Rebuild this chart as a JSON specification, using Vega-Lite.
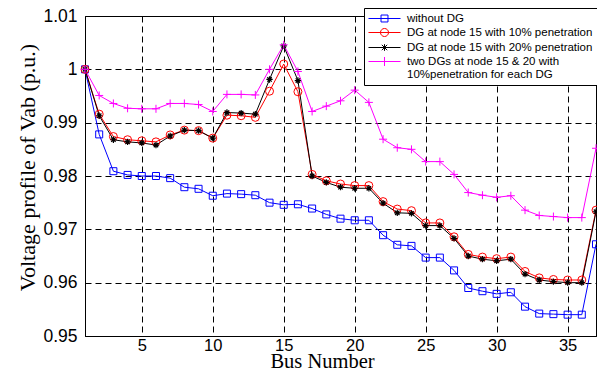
{
  "$schema": "https://vega.github.io/schema/vega-lite/v6.json",
  "width": 511,
  "height": 320,
  "autosize": {"type": "none"},
  "padding": {"left": 85, "top": 16, "right": 1, "bottom": 35},
  "background": "white",
  "config": {"view": {"stroke": "black", "strokeWidth": 1}, "font": "Liberation Sans"},
  "data": {"values": [
    {"bus": 1, "w": 1.0, "d10": 1.0, "d20": 1.0, "two": 1.0},
    {"bus": 2, "w": 0.9878, "d10": 0.9916, "d20": 0.9913, "two": 0.9951},
    {"bus": 3, "w": 0.9809, "d10": 0.9874, "d20": 0.9868, "two": 0.9936},
    {"bus": 4, "w": 0.9802, "d10": 0.9868, "d20": 0.9864, "two": 0.9927},
    {"bus": 5, "w": 0.9800, "d10": 0.9866, "d20": 0.9862, "two": 0.9926},
    {"bus": 6, "w": 0.9800, "d10": 0.9864, "d20": 0.9858, "two": 0.9926},
    {"bus": 7, "w": 0.9796, "d10": 0.9877, "d20": 0.9875, "two": 0.9936},
    {"bus": 8, "w": 0.9779, "d10": 0.9886, "d20": 0.9886, "two": 0.9936},
    {"bus": 9, "w": 0.9776, "d10": 0.9885, "d20": 0.9885, "two": 0.9934},
    {"bus": 10, "w": 0.9763, "d10": 0.9871, "d20": 0.9871, "two": 0.9921},
    {"bus": 11, "w": 0.9767, "d10": 0.9914, "d20": 0.9919, "two": 0.9953},
    {"bus": 12, "w": 0.9766, "d10": 0.9913, "d20": 0.9918, "two": 0.9953},
    {"bus": 13, "w": 0.9764, "d10": 0.9910, "d20": 0.9916, "two": 0.9952},
    {"bus": 14, "w": 0.9750, "d10": 0.9959, "d20": 0.9981, "two": 1.0000},
    {"bus": 15, "w": 0.9746, "d10": 1.0010, "d20": 1.0044, "two": 1.0046},
    {"bus": 16, "w": 0.9747, "d10": 0.9958, "d20": 0.9979, "two": 0.9996},
    {"bus": 17, "w": 0.9739, "d10": 0.9803, "d20": 0.9800, "two": 0.9921},
    {"bus": 18, "w": 0.9728, "d10": 0.9791, "d20": 0.9788, "two": 0.9931},
    {"bus": 19, "w": 0.9720, "d10": 0.9785, "d20": 0.9779, "two": 0.9941},
    {"bus": 20, "w": 0.9717, "d10": 0.9782, "d20": 0.9777, "two": 0.9961},
    {"bus": 21, "w": 0.9717, "d10": 0.9782, "d20": 0.9777, "two": 0.9938},
    {"bus": 22, "w": 0.9689, "d10": 0.9752, "d20": 0.9749, "two": 0.9869},
    {"bus": 23, "w": 0.9671, "d10": 0.9738, "d20": 0.9731, "two": 0.9853},
    {"bus": 24, "w": 0.9669, "d10": 0.9735, "d20": 0.9730, "two": 0.9850},
    {"bus": 25, "w": 0.9647, "d10": 0.9712, "d20": 0.9707, "two": 0.9827},
    {"bus": 26, "w": 0.9647, "d10": 0.9712, "d20": 0.9707, "two": 0.9827},
    {"bus": 27, "w": 0.9623, "d10": 0.9686, "d20": 0.9683, "two": 0.9803},
    {"bus": 28, "w": 0.9590, "d10": 0.9653, "d20": 0.9650, "two": 0.9769},
    {"bus": 29, "w": 0.9584, "d10": 0.9648, "d20": 0.9644, "two": 0.9764},
    {"bus": 30, "w": 0.9579, "d10": 0.9645, "d20": 0.9641, "two": 0.9760},
    {"bus": 31, "w": 0.9582, "d10": 0.9648, "d20": 0.9644, "two": 0.9763},
    {"bus": 32, "w": 0.9555, "d10": 0.9621, "d20": 0.9616, "two": 0.9736},
    {"bus": 33, "w": 0.9542, "d10": 0.9609, "d20": 0.9605, "two": 0.9726},
    {"bus": 34, "w": 0.9541, "d10": 0.9606, "d20": 0.9602, "two": 0.9724},
    {"bus": 35, "w": 0.9540, "d10": 0.9605, "d20": 0.9600, "two": 0.9722},
    {"bus": 36, "w": 0.9540, "d10": 0.9605, "d20": 0.9600, "two": 0.9722},
    {"bus": 37, "w": 0.9672, "d10": 0.9736, "d20": 0.9733, "two": 0.9852}
  ]},
  "transform": [{"fold": ["w", "d10", "d20", "two"], "as": ["s", "v"]}],
  "encoding": {
    "x": {
      "field": "bus", "type": "quantitative",
      "scale": {"domain": [1, 37], "nice": false, "zero": false},
      "axis": {
        "values": [5, 10, 15, 20, 25, 30, 35],
        "grid": true, "gridColor": "black", "gridDash": [6, 4], "gridOpacity": 1, "gridWidth": 1,
        "ticks": false, "domainColor": "black",
        "labelFont": "Liberation Sans", "labelFontSize": 16.5, "labelColor": "black", "labelPadding": 1,
        "title": "Bus Number", "titleFont": "Liberation Serif", "titleFontSize": 20.5, "titleFontWeight": "normal",
        "titleColor": "black", "titleX": 237, "titleY": 31, "titleBaseline": "alphabetic", "titleAlign": "center"
      }
    },
    "y": {
      "field": "v", "type": "quantitative",
      "scale": {"domain": [0.95, 1.01], "nice": false, "zero": false},
      "axis": {
        "values": [0.95, 0.96, 0.97, 0.98, 0.99, 1.0, 1.01],
        "labelExpr": "datum.value == 1 ? '1' : format(datum.value, '.2f')",
        "grid": true, "gridColor": "black", "gridDash": [6, 4], "gridOpacity": 1, "gridWidth": 1,
        "ticks": false, "domainColor": "black",
        "labelFont": "Liberation Sans", "labelFontSize": 17.5, "labelColor": "black", "labelPadding": 8,
        "title": "Voltage profile of Vab (p.u.)", "titleFont": "Liberation Serif", "titleFontSize": 22,
        "titleFontWeight": "normal", "titleColor": "black",
        "titleX": -58, "titleY": 151, "titleAngle": -90, "titleBaseline": "middle", "titleAlign": "center"
      }
    },
    "color": {
      "field": "s", "type": "nominal",
      "scale": {"domain": ["w", "d10", "d20", "two"], "range": ["#0000ff", "#ff0000", "#000000", "#ff00ff"]},
      "legend": {
        "orient": "none", "legendX": 279, "legendY": -8, "title": null,
        "strokeColor": "black", "fillColor": "white", "padding": 4,
        "labelFont": "Liberation Sans", "labelFontSize": 11.5, "labelColor": "black", "labelLimit": 400,
        "symbolOffset": 10, "labelOffset": 16, "rowPadding": 2,
        "symbolSize": 144, "symbolStrokeWidth": 1, "symbolOpacity": 1,
        "labelExpr": "datum.value == 'w' ? 'without DG' : datum.value == 'd10' ? 'DG at node 15 with 10% penetration' : datum.value == 'd20' ? 'DG at node 15 with 20% penetration' : ['two DGs at node 15 & 20 with', '10%penetration for each DG']",
        "encode": {
          "symbols": {
            "update": {
              "shape": {"signal": "datum.value == 'w' ? 'M-2.67,0H2.67M-0.58,-0.58H0.58V0.58H-0.58Z' : datum.value == 'd10' ? 'M-2.67,0H2.67M0.67,0A0.67,0.67 0 1,1 -0.67,0A0.67,0.67 0 1,1 0.67,0' : datum.value == 'd20' ? 'M-2.67,0H2.67M-0.45,-0.45L0.45,0.45M-0.45,0.45L0.45,-0.45M0,-0.55V0.55' : 'M-2.67,0H2.67M0,-0.75V0.75'"},
              "fill": {"value": "transparent"}
            }
          }
        }
      }
    }
  },
  "layer": [
    {"mark": {"type": "line", "strokeWidth": 1}},
    {
      "transform": [{"filter": "datum.s == 'w'"}],
      "mark": {"type": "point", "filled": false, "strokeWidth": 1, "opacity": 1, "size": 49, "shape": "square"}
    },
    {
      "transform": [{"filter": "datum.s == 'd10'"}],
      "mark": {"type": "point", "filled": false, "strokeWidth": 1, "opacity": 1, "size": 64, "shape": "circle"}
    },
    {
      "transform": [{"filter": "datum.s == 'd20'"}],
      "mark": {"type": "point", "filled": false, "strokeWidth": 1.2, "opacity": 1, "size": 40, "shape": "M-1,0H1M-0.7,-0.7L0.7,0.7M-0.7,0.7L0.7,-0.7M0,-1V1"}
    },
    {
      "transform": [{"filter": "datum.s == 'two'"}],
      "mark": {"type": "point", "filled": false, "strokeWidth": 1, "opacity": 1, "size": 64, "shape": "M-1,0H1M0,-1V1"}
    }
  ]
}
